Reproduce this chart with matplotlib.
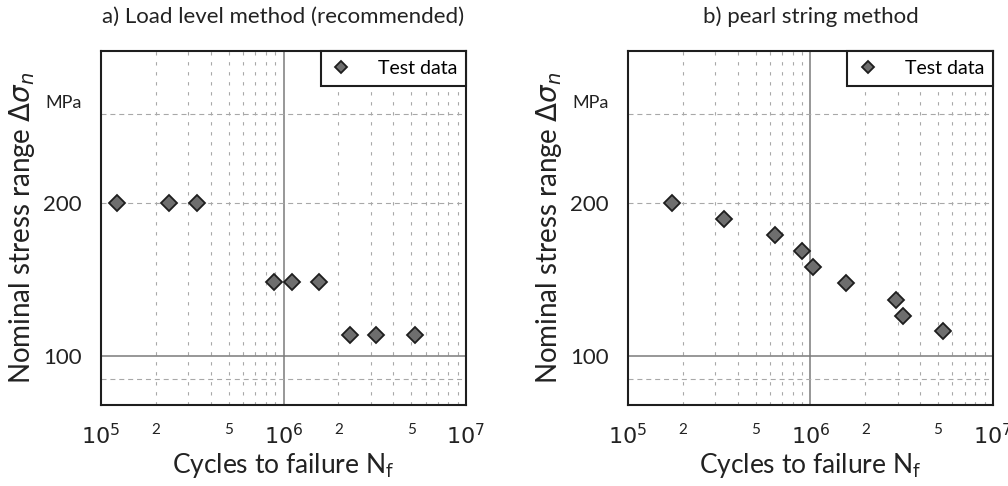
import numpy as np
import matplotlib
matplotlib.use("Agg")
import matplotlib.pyplot as plt

plt.rcParams['font.family'] = ['Lato', 'DejaVu Sans']
plt.rcParams['mathtext.fontset'] = 'dejavusans'

# ---- data ----
titles = ["a) Load level method (recommended)", "b) pearl string method"]
load_level_N = [1.22e5, 2.36e5, 3.36e5, 8.9e5, 1.11e6, 1.57e6, 2.31e6, 3.21e6, 5.26e6]
load_level_S = [200, 200, 200, 140, 140, 140, 110, 110, 110]
pearl_N = [1.74e5, 3.37e5, 6.37e5, 8.98e5, 1.03e6, 1.57e6, 2.94e6, 3.22e6, 5.30e6]
pearl_S = [200, 186, 173, 161, 150, 139, 129, 120, 112]
legend_label = "Test data"
x_major_ticks = [1e5, 1e6, 1e7]
x_major_labels = [r"$10^5$", r"$10^6$", r"$10^7$"]
x_minor_ticks = [2e5, 5e5, 2e6, 5e6]
x_minor_labels = ["2", "5", "2", "5"]
y_ticks = [100, 200, 318]
y_labels = ["100", "200", "MPa"]
x_grid_solid = [1e6]
x_grid_dashed = [2e5, 3e5, 4e5, 5e5, 6e5, 7e5, 8e5, 9e5,
                 2e6, 3e6, 4e6, 5e6, 6e6, 7e6, 8e6, 9e6]
y_grid_solid = [100]
y_grid_dashed = [90, 200, 300]
xlim = (1e5, 1e7)
ylim = (80, 400)

fig = plt.figure(figsize=(10.08, 4.86), dpi=100)
positions = [[0.1002, 0.1667, 0.3621, 0.7283], [0.623, 0.1667, 0.3621, 0.7283]]
datasets = [(load_level_N, load_level_S), (pearl_N, pearl_S)]

for pos, title, (N, S) in zip(positions, titles, datasets):
    ax = fig.add_axes(pos)
    ax.set_xscale('log')
    ax.set_yscale('log')
    ax.set_xlim(*xlim)
    ax.set_ylim(*ylim)
    for xv in x_grid_dashed:
        ax.axvline(xv, color='#a8a8a8', lw=0.8, ls=(0, (3, 6)), zorder=1)
    for xv in x_grid_solid:
        ax.axvline(xv, color='#7a7a7a', lw=1.1, zorder=1)
    for yv in y_grid_dashed:
        ax.axhline(yv, color='#a8a8a8', lw=0.8, ls=(0, (4.5, 3.5)), zorder=1)
    for yv in y_grid_solid:
        ax.axhline(yv, color='#7a7a7a', lw=1.1, zorder=1)
    ax.plot(N, S, ls='none', marker='D', ms=8, mfc='#6e6e6e', mec='#1e1e1e',
            mew=1.3, zorder=5, label=legend_label)

    ax.xaxis.set_minor_locator(matplotlib.ticker.NullLocator())
    ax.yaxis.set_minor_locator(matplotlib.ticker.NullLocator())
    ax.set_xticks(x_major_ticks + x_minor_ticks)
    ax.set_xticklabels(x_major_labels + x_minor_labels)
    for i, lab in enumerate(ax.get_xticklabels()):
        if i < len(x_major_ticks):
            lab.set_fontsize(16)
        else:
            lab.set_fontsize(11)
            lab.set_va('top')
    ax.tick_params(axis='x', length=0, pad=13, colors='#222222')
    ax.set_yticks(y_ticks)
    ax.set_yticklabels(y_labels)
    for lab in ax.get_yticklabels():
        if lab.get_text() == "MPa":
            lab.set_fontsize(13)
        else:
            lab.set_fontsize(16)
    ax.tick_params(axis='y', length=0, pad=14, colors='#222222')
    for sp in ax.spines.values():
        sp.set_linewidth(1.5)
        sp.set_color('#1e1e1e')
    ax.set_title(title, fontsize=16, pad=20, color='#222222')
    ax.set_xlabel(r"Cycles to failure N$_\mathrm{f}$", fontsize=19, labelpad=2, color='#222222')
    ax.set_ylabel(r"Nominal stress range $\Delta\sigma_n$", fontsize=20, labelpad=4, color='#222222')
    leg = ax.legend(loc='upper right', fontsize=14, fancybox=False, framealpha=1,
                    edgecolor='#1e1e1e', borderaxespad=0, handlelength=1.2,
                    handletextpad=1.3, borderpad=0.45, markerscale=0.75)
    leg.get_frame().set_linewidth(1.5)
    leg.set_zorder(10)

fig.savefig("out.png", dpi=100)
